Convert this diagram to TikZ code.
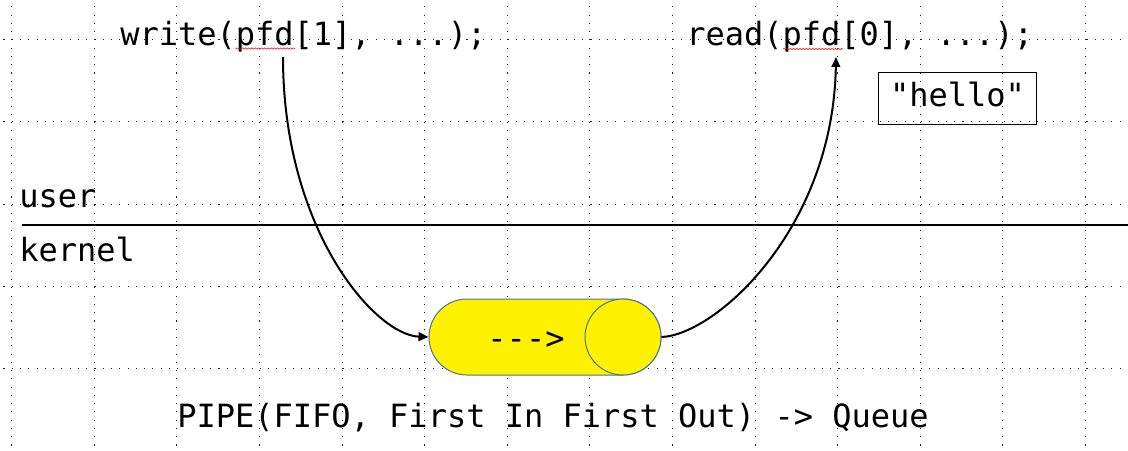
\documentclass[tikz,border=0pt]{standalone}
\usepackage{fontspec}
\setmonofont{DejaVu Sans Mono}
\usetikzlibrary{arrows.meta,shapes.misc,decorations.pathmorphing}
\definecolor{pipeedge}{RGB}{82,111,150}
\definecolor{griddot}{RGB}{30,30,30}
\begin{document}
\begin{tikzpicture}[x=0.75pt,y=-0.75pt,
  code/.style={font=\ttfamily\fontsize{24}{28}\selectfont, inner sep=0pt},
  conn/.style={line width=1.5pt, -{Triangle[length=7.5pt,width=6.5pt]}},
  squiggle/.style={red, line width=0.4pt, decorate, decoration={snake, amplitude=0.5pt, segment length=2.4pt}},
  gridline/.style={griddot, line width=0.8pt, dash pattern=on 0.8pt off 5.4pt},
  pipepart/.style={draw=pipeedge, fill=yellow, line width=0.75pt, inner sep=0pt}]
\useasboundingbox (0,0) rectangle (1128,450);
\clip (0,0) rectangle (1128,450);
% grid
\foreach \i in {0,...,13} \draw[gridline] ({11.7+82.6*\i},-43.3) -- ({11.7+82.6*\i},470);
\foreach \j in {0,...,4} \draw[gridline] (-70.9,{39.3+82.4*\j}) -- (1140,{39.3+82.4*\j});
% user / kernel boundary
\draw[line width=1.5pt] (22,224.5) -- (1128,224.5);
% texts
\node[code, anchor=base west] (write) at (120,45) {write(pfd[1], ...);};
\node[code, anchor=base west] (read) at (686,45) {read(pfd[0], ...);};
\node[code, anchor=base west] (user) at (19,207) {user};
\node[code, anchor=base west] (kernel) at (19,261) {kernel};
\node[code, draw, line width=0.75pt, minimum width=118pt, minimum height=39pt, text height=13pt, text depth=0pt] (hello) at (957.5,98) {"hello"};
\draw[squiggle] (235,48.5) -- (295,48.5);
\draw[squiggle] (783,49) -- (843,49);
% pipe
\node[pipepart, rounded rectangle, minimum width=174pt, minimum height=57pt] (pipe) at (545,337) {};
\node[pipepart, circle, minimum size=57pt] (pipeend) at (623,337) {};
\node[code, anchor=base] (flow) at (526,349) {--->};
\node[code, anchor=base] (caption) at (553,427) {PIPE(FIFO, First In First Out) -> Queue};
% connectors
\coordinate (wfrom) at (283,57);
\coordinate (rto) at (836,57);
\draw[conn] (wfrom) .. controls (283,230) and (375,335) .. (pipe.west);
\draw[conn] (pipeend.east) .. controls (715,335) and (833,230) .. (rto);
\end{tikzpicture}
\end{document}
